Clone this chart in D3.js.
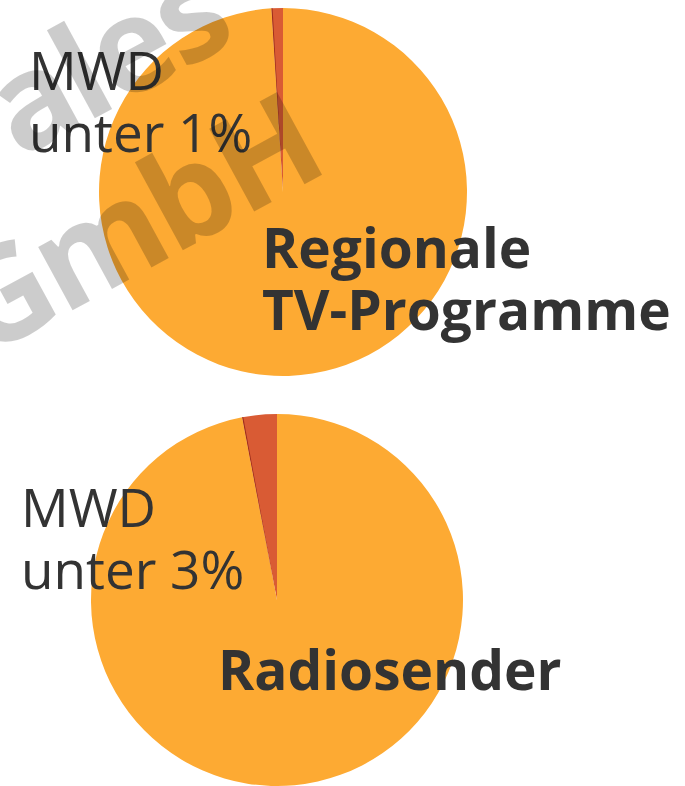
<!DOCTYPE html>
<html>
<head>
<meta charset="utf-8">
<script src="https://cdn.jsdelivr.net/npm/d3@7"></script>
<style>
  body { margin: 0; background: #fff; }
  svg { display: block; }
  text { font-family: "Open Sans", sans-serif; fill: #333; }
</style>
</head>
<body>
<div id="chart"></div>
<script>
// values
const categories = ["Regionale TV-Programme", "Radiosender"];
const titleLines = [["Regionale", "TV-Programme"], ["Radiosender"]];
const mwdShare = [1, 3];            // % Marktanteil MWD
const mwdLabels = [["MWD", "unter 1%"], ["MWD", "unter 3%"]];
const watermarkLines = ["ales", "GmbH"];

const width = 685, height = 786;
const colors = {rest: "#fdaa33", mwd: "#d95b34", edge: "#9e2e1c"};

// layout per pie
const pies = [
    {cx: 283, cy: 192, r: 184, labelX: 29, labelY: 90, titleX: 262, titleY: 268},
    {cx: 277, cy: 600, r: 186, labelX: 21, labelY: 527, titleX: 218, titleY: 690}
];

const svg = d3.select("#chart").append("svg")
    .attr("width", width)
    .attr("height", height);

categories.forEach((cat, i) => {
    let p = pies[i];
    let data = [
        {key: "MWD", value: mwdShare[i]},
        {key: "Rest", value: 100 - mwdShare[i]}
    ];
    // MWD slice sits just left of 12 o'clock
    let startA = -2 * Math.PI * mwdShare[i] / 100;
    let pie = d3.pie().sort(null).value(d => d.value)
        .startAngle(startA).endAngle(startA + 2 * Math.PI);
    let arc = d3.arc().innerRadius(0).outerRadius(p.r);

    let g = svg.append("g")
        .attr("class", "pie")
        .attr("transform", "translate(" + p.cx + "," + p.cy + ")");

    g.selectAll("path").data(pie(data)).enter().append("path")
        .attr("d", arc)
        .attr("fill", d => d.data.key === "MWD" ? colors.mwd : colors.rest);

    // thin dark edge at the left side of the MWD slice
    let edge = pie(data)[0];
    g.append("path")
        .attr("d", d3.arc().innerRadius(0).outerRadius(p.r)({startAngle: edge.startAngle, endAngle: edge.startAngle + 0.006}))
        .attr("fill", colors.edge);

    let lab = svg.append("text")
        .attr("x", p.labelX)
        .attr("y", p.labelY)
        .style("font-size", "53px");
    mwdLabels[i].forEach((t, j) => {
        lab.append("tspan").attr("x", p.labelX).attr("dy", j === 0 ? 0 : 62).text(t);
    });

    let title = svg.append("text")
        .attr("x", p.titleX)
        .attr("y", p.titleY)
        .style("font-size", "55px")
        .style("font-weight", 700);
    titleLines[i].forEach((t, j) => {
        title.append("tspan").attr("x", p.titleX).attr("dy", j === 0 ? 0 : 62).text(t);
    });
});

// watermark over everything
let wm = svg.append("g")
    .attr("transform", "translate(329,171) rotate(-28.5)")
    .style("pointer-events", "none");
wm.selectAll("text").data(watermarkLines).enter().append("text")
    .attr("x", (d, i) => i === 0 ? -19 : 0)
    .attr("y", (d, i) => i === 0 ? -158 : 0)
    .attr("text-anchor", "end")
    .style("font-size", "132px")
    .style("font-weight", 700)
    .style("letter-spacing", "-4px")
    .style("fill", "#000")
    .style("fill-opacity", 0.2)
    .text(d => d);
</script>
</body>
</html>
